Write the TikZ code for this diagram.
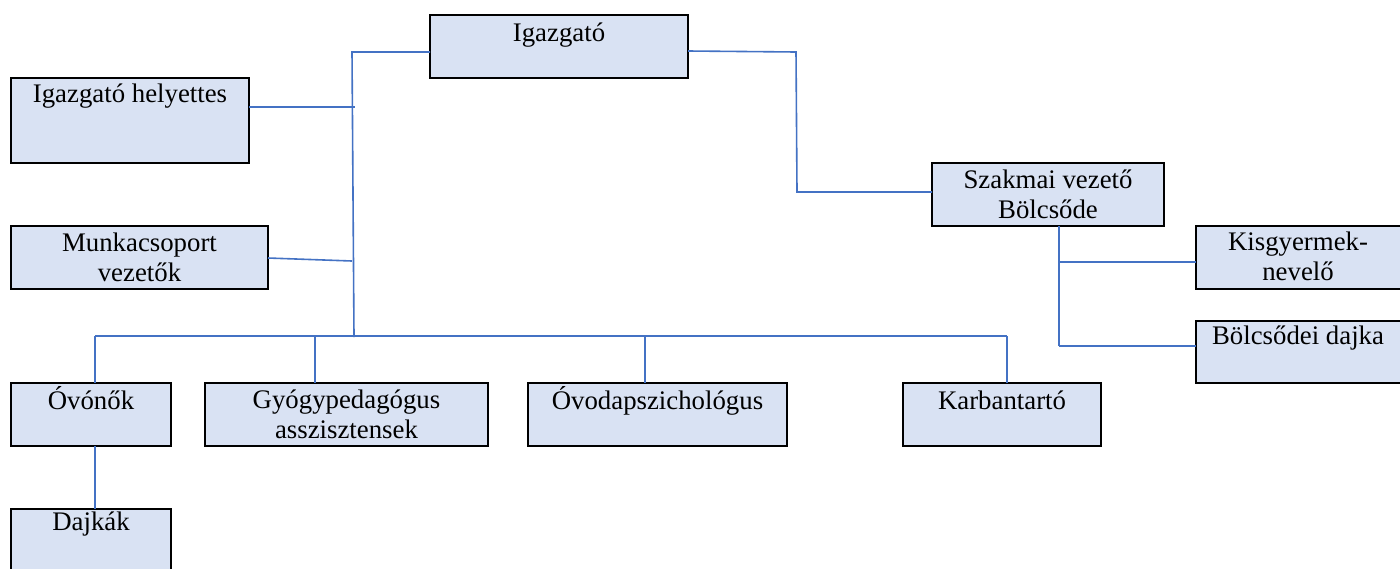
\documentclass[tikz,border=0pt]{standalone}
\usepackage{fontspec}
\setmainfont{Liberation Serif}
\definecolor{boxfill}{HTML}{D9E2F3}
\definecolor{linkblue}{HTML}{4472C4}
\tikzset{
  orgbox/.style={draw=black, line width=1.35pt, fill=boxfill, rectangle, anchor=north west, inner sep=0pt, outer sep=0pt},
  lbl/.style={anchor=base, align=center, inner sep=0pt, font=\fontsize{13.4pt}{14.7pt}\selectfont},
  conn/.style={draw=linkblue, line width=0.8pt}
}
\begin{document}
\begin{tikzpicture}[x=0.5pt,y=-0.5pt]
\clip (0,0) rectangle (1400,568);
\fill[white] (0,0) rectangle (1400,568);
% boxes
\node[orgbox, minimum width=129pt, minimum height=31.5pt] (ig) at (430,15) {};
\node[orgbox, minimum width=119pt, minimum height=42.5pt] (hely) at (11,78) {};
\node[orgbox, minimum width=128.5pt, minimum height=31.5pt] (munka) at (11,226) {};
\node[orgbox, minimum width=116pt, minimum height=31.5pt] (szak) at (932,163) {};
\node[orgbox, minimum width=103pt, minimum height=31.5pt] (kisgy) at (1196,226) {};
\node[orgbox, minimum width=103pt, minimum height=31pt] (bdaj) at (1196,321) {};
\node[orgbox, minimum width=80pt, minimum height=31.5pt] (ovo) at (11,383) {};
\node[orgbox, minimum width=141.5pt, minimum height=31.5pt] (gyogy) at (205,383) {};
\node[orgbox, minimum width=129.5pt, minimum height=31.5pt] (ovpsz) at (528,383) {};
\node[orgbox, minimum width=99pt, minimum height=31.5pt] (karb) at (903,383) {};
\node[orgbox, minimum width=80pt, minimum height=40pt] (dajk) at (11,509) {};
% labels (anchor = baseline of last line)
\node[lbl] (igT) at (559,41.5) {Igazgató};
\node[lbl] (helyT) at (130,102) {Igazgató helyettes};
\node[lbl] (munkaT) at (139.5,281) {Munkacsoport\\vezetők};
\node[lbl] (szakT) at (1048,218) {Szakmai vezető\\Bölcsőde};
\node[lbl] (kisgyT) at (1298,280) {Kisgyermek-\\nevelő};
\node[lbl] (bdajT) at (1298,344) {Bölcsődei dajka};
\node[lbl] (ovoT) at (91,409) {Óvónők};
\node[lbl] (gyogyT) at (346.5,438) {Gyógypedagógus\\asszisztensek};
\node[lbl] (ovpszT) at (657.5,409) {Óvodapszichológus};
\node[lbl] (karbT) at (1002,409) {Karbantartó};
\node[lbl] (dajkT) at (91,530) {Dajkák};
% coordinates
\coordinate (top) at (352,52);
\coordinate (hj) at (355,107);
\coordinate (mj) at (352,261);
\coordinate (bj) at (354,337);
\coordinate (busL) at (95,336);
\coordinate (busR) at (1007,336);
\coordinate (r1) at (796,52);
\coordinate (r2) at (797,192);
\coordinate (sj1) at (1059,262);
\coordinate (sj2) at (1059,346);
% connectors
\draw[conn] (ig.west |- top) -- (top) -- (bj);
\draw[conn] (hely.east |- 0,107) -- (hj);
\draw[conn] (munka.east |- 0,258) -- (mj);
\draw[conn] (busL) -- (busR);
\draw[conn] (busL) -- (busL |- ovo.north);
\draw[conn] (315,336) -- (315,383) coordinate (gyN);
\draw[conn] (645,336) -- (645,383) coordinate (ovN);
\draw[conn] (busR) -- (busR |- karb.north);
\draw[conn] (ovo.south -| busL) -- (dajk.north -| busL);
\draw[conn] (ig.east |- 0,51) -- (r1) -- (r2) -- (szak.west |- r2);
\draw[conn] (szak.south -| sj1) -- (sj2);
\draw[conn] (sj1) -- (kisgy.west |- sj1);
\draw[conn] (sj2) -- (bdaj.west |- sj2);
\end{tikzpicture}
\end{document}
